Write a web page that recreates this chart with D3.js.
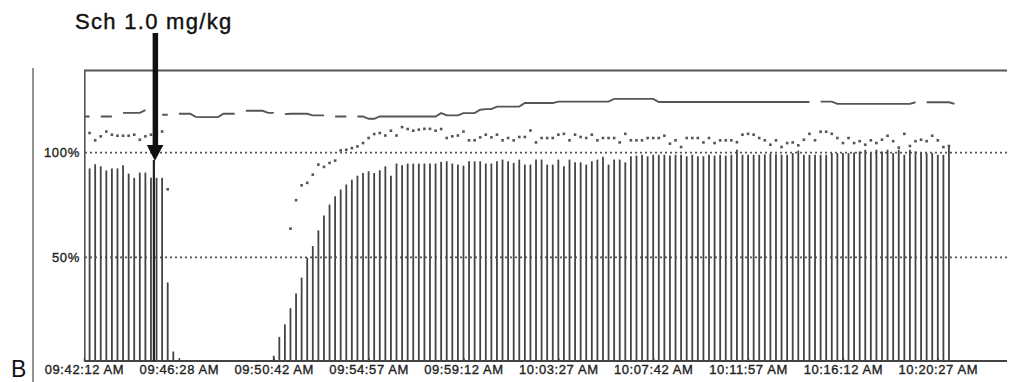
<!DOCTYPE html>
<html><head><meta charset="utf-8">
<script src="https://cdn.jsdelivr.net/npm/d3@7"></script>
<style>html,body{margin:0;padding:0;background:#fff;}svg{display:block;font-family:"Liberation Sans",Arial,sans-serif;}</style>
</head><body><svg id="c" width="1013" height="382"></svg>
<script>
// ---- data (one sample every 15 s, sample 0 = 09:42:12 AM) ----
const tickSamples = [0, 17, 34, 51, 68, 85, 102, 119, 136, 153];
const tickLabels = ["09:42:12 AM","09:46:28 AM","09:50:42 AM","09:54:57 AM","09:59:12 AM","10:03:27 AM","10:07:42 AM","10:11:57 AM","10:16:12 AM","10:20:27 AM"];
const yTicks = [50, 100];
const annotation = "Sch 1.0 mg/kg";
const drugSample = 12.7;
const panelLetter = "B";

// bars: twitch height (%) per sample
const bars = [
 null,
 92.5, 94.5, 93.5, 91.5, 92.5, 92.5, 94, 90, 88, 90.5,
 90.5, 88, 88, 88, 38, 5,
 null, null, null, null, null, null, null, null, null, null, null, null, null, null, null, null, null,
 3, 12, 18, 25.7, 32.7, 40.3, 49.8, 55.4, 62.9, 70,
 75.2, 79.2, 82.4, 84.8, 87.1, 89, 90.3, 91.1, 90.3, 91.6,
 93.5, 89, 94.8, 94, 94.8, 94.8, 94.8, 94.8, 94.8, 94.8,
 95.6, 95.9, 94.8, 94.3, 93.8, 95.9, 95.9, 95.9, 94.8, 94.8,
 95.9, 96.7, 95.9, 95.1, 96.7, 94.3, 94.3, 96.7, 96.7, 94.3,
 94.3, 96.7, 93.5, 96.7, 95.4, 95.4, 94.3, 95.9, 96.7, 98,
 94.3, 96.7, 96.7, 95.4, 98.3, 98.6, 99, 98.3, 99, 99,
 99, 98.6, 99, 99, 98.3, 99, 98.3, 98.3, 99, 98.6,
 99, 98.6, 99, 101.4, 99, 99, 99, 99, 99.2, 99.6,
 99.2, 99, 99, 99.8, 101, 99, 99, 99, 99, 99,
 99.8, 99.8, 99.8, 99.8, 100.1, 100.6, 101.4, 99.8, 101.4, 100.6,
 101.4, 99.8, 101.4, 99, 101.4, 100.6, 99.8, 99.8, 99.8, 99,
 99, 102.8
];

// dots: ratio (%) per sample
const dots = [
 null,
 109.4, 105.9, 107.8, 110.1, 108.6, 108.1, 108.1, 108.1, 108.6, 106.2, 107.8, 108.6, 109.4, 110.1,
 82.5,
 null, null, null, null, null, null, null, null, null, null, null, null, null, null, null, null, null, null, null, null, null,
 63.7, 77.3, 84.4, 85.6, 89.5, 94.3, 93.2, 95.1, 96.2, 101.1,
 101.4, 102.2, 103, 104.6, 107, 108.9, 109.4, 108.2, 110.5, 108.2,
 112.2, 111.3, 110.5, 111, 111.4, 111.4, 110.5, 111.3, 107, 107.8,
 108.2, 110.1, 105.9, 105.9, 107.3, 108.6, 107.3, 108.6,
 105.9, 107, 105.9, 107.5, 107.5, 110.6, 104.9, 107, 107, 107,
 108.6, 109, 105.9, 108.6, 107.5, 107, 108.6, 105.9, 107, 107,
 107, 104.9, 109, 105.9, 105.9, 105.9, 107, 107, 107, 108.1,
 104.3, 105.9, 102.7, 107, 107, 107, 104.9, 107, 104.6, 105.9,
 105.9, 105.9, 105, 108.6, 109, 108.6, 107, 105.9, 103.8, 105.9,
 102.7, 104.6, 104.9, 103.5, 106.2, 109, 105.9, 110, 110, 109,
 107, 104.6, 107, 104.6, 105.5, 103.8, 105.9, 104.6, 106.2, 108.1,
 105.5, 102.4, 109, 103.2, 105.5, 106.2, 105.5, 108.1, 105.9, 102.7, 103.2
];

// upper trace (%) per sample, null = gap
const upper = [
 117.3, 117.3, null, 117.3, 117.3, 117.3, null, 119, 119, 119,
 119, 120.3, null, null, 118.1, 118.1, null, 118.6, 118.6, 118.6,
 117.1, 117, 117, 117, 117, 118.6, 118.6, 118.6, null, 120,
 120, 120, 120, 119, 119, null, 118.4, 118.6, 118.6, 118.6,
 118.6, 117.8, 117.8, 117.8, null, 117.3, 117.3, 117.3, null, 117.3,
 117.3, 116.2, 116.2, 117.3, 117.3, 117.3, 117.3, 117.3, 117.3, 117.3,
 117.3, 117.3, 117.3, 117.3, 118.9, 117.8, 117.8, 117.8, 118.9, 118.9,
 118.9, 120.5, 120.8, 120.8, 122, 122, 122, 122, 122, 123.7,
 123.7, 123.7, 123.7, 123.7, 123.7, 124.4, 124.4, 124.4, 124.4, 124.4,
 124.4, 124.4, 124.4, 124.4, 124.4, 125.7, 125.7, 125.7, 125.7, 125.7,
 125.7, 125.7, 125.7, 124.2, 124.2, 124.2, 124.2, 124.2, 124.2, 124.2,
 124.2, 124.2, 124.2, 124.2, 124.2, 124.2, 124.2, 124.2, 124.2, 124.2,
 124.2, 124.2, 124.2, 124.2, 124.2, 124.2, 124.2, 124.2, 124.2, 124.2,
 124.2, null, 124.4, 124.4, 124.4, 123.3, 123.3, 123.3, 123.3, 123.3,
 123.3, 123.3, 123.3, 123.3, 123.3, 123.3, 123.3, 123.3, 123.3, 124.1,
 null, 124.1, 124.1, 124.1, 124.1, 124.1, 123.3
];

// ---- drawing ----
const svg = d3.select("#c");
const L = 84, R = 1007, T = 70.5, B = 361;
const x = d3.scaleLinear().domain([0, 165.4]).range([L, R]);
const y = d3.scaleLinear().domain([0, 139.5]).range([362, 70]);
const FONT = "'Liberation Sans',Arial,sans-serif";

// outer panel line
svg.append("line").attr("x1",33).attr("x2",33).attr("y1",68).attr("y2",382)
  .attr("stroke","#777").attr("stroke-width",1.6);

// gridlines
svg.append("g").selectAll("line").data(yTicks).join("line")
  .attr("x1",L+1).attr("x2",R).attr("y1",d=>y(d)).attr("y2",d=>y(d))
  .attr("stroke","#555").attr("stroke-width",1.8).attr("stroke-dasharray","2,3");

// bars
svg.append("g").selectAll("line").data(bars.map((v,i)=>({v,i})).filter(d=>d.v!=null)).join("line")
  .attr("x1",d=>x(d.i)).attr("x2",d=>x(d.i))
  .attr("y1",y(0)).attr("y2",d=>y(d.v))
  .attr("stroke","#444").attr("stroke-width",1.8);

// dots
svg.append("g").selectAll("rect").data(dots.map((v,i)=>({v,i})).filter(d=>d.v!=null)).join("rect")
  .attr("x",d=>x(d.i)-1.3).attr("y",d=>y(d.v)-1.3).attr("width",2.6).attr("height",2.6)
  .attr("fill","#555");

// upper trace
svg.append("path").datum(upper)
  .attr("d", d3.line().defined(d=>d!=null).x((d,i)=>x(i)).y(d=>y(d)))
  .attr("fill","none").attr("stroke","#555").attr("stroke-width",1.9);

// frame
svg.append("line").attr("x1",L).attr("x2",R).attr("y1",T).attr("y2",T).attr("stroke","#555").attr("stroke-width",2);
svg.append("line").attr("x1",L+0.8).attr("x2",L+0.8).attr("y1",T).attr("y2",B).attr("stroke","#555").attr("stroke-width",1.6);
svg.append("line").attr("x1",L).attr("x2",R).attr("y1",B).attr("y2",B).attr("stroke","#444").attr("stroke-width",1.8);

// x axis
const xa = svg.append("g").attr("transform",`translate(0,${B})`)
  .call(d3.axisBottom(x).tickValues(tickSamples).tickFormat((d,i)=>tickLabels[i]).tickSizeInner(-3).tickSizeOuter(0).tickPadding(4));
xa.select(".domain").remove();
xa.selectAll("line").attr("stroke","#444").attr("stroke-width",1.5);
xa.selectAll("text").attr("font-size",13).attr("letter-spacing","0.6px").attr("fill","#222")
  .attr("stroke","#222").attr("stroke-width",0.35).attr("font-family",FONT);

// y axis labels
const ya = svg.append("g").attr("transform",`translate(80,0)`)
  .call(d3.axisLeft(y).tickValues(yTicks).tickFormat(d=>d+"%").tickSize(0).tickPadding(0));
ya.select(".domain").remove();
ya.selectAll("text").attr("font-size",13).attr("letter-spacing","0.7px").attr("fill","#222")
  .attr("stroke","#222").attr("stroke-width",0.35).attr("font-family",FONT);

// annotation arrow
const ax = x(drugSample);
svg.append("line").attr("x1",ax-1).attr("x2",ax-1).attr("y1",160).attr("y2",B).attr("stroke","#222").attr("stroke-width",2.2);
svg.append("line").attr("x1",ax+0.5).attr("x2",ax+0.5).attr("y1",33).attr("y2",148).attr("stroke","#111").attr("stroke-width",5.5);
svg.append("path").attr("d",`M${ax-8},145 L${ax+8.5},145 L${ax},161 Z`).attr("fill","#111");
svg.append("text").attr("x",75).attr("y",29).attr("font-size",22).attr("letter-spacing","1.3px")
  .attr("fill","#111").attr("stroke","#111").attr("stroke-width",0.4).attr("font-family",FONT).text(annotation);

// panel letter
svg.append("text").attr("x",11).attr("y",376.5).attr("font-size",23).attr("fill","#111").attr("font-family",FONT).text(panelLetter);
</script></body></html>
